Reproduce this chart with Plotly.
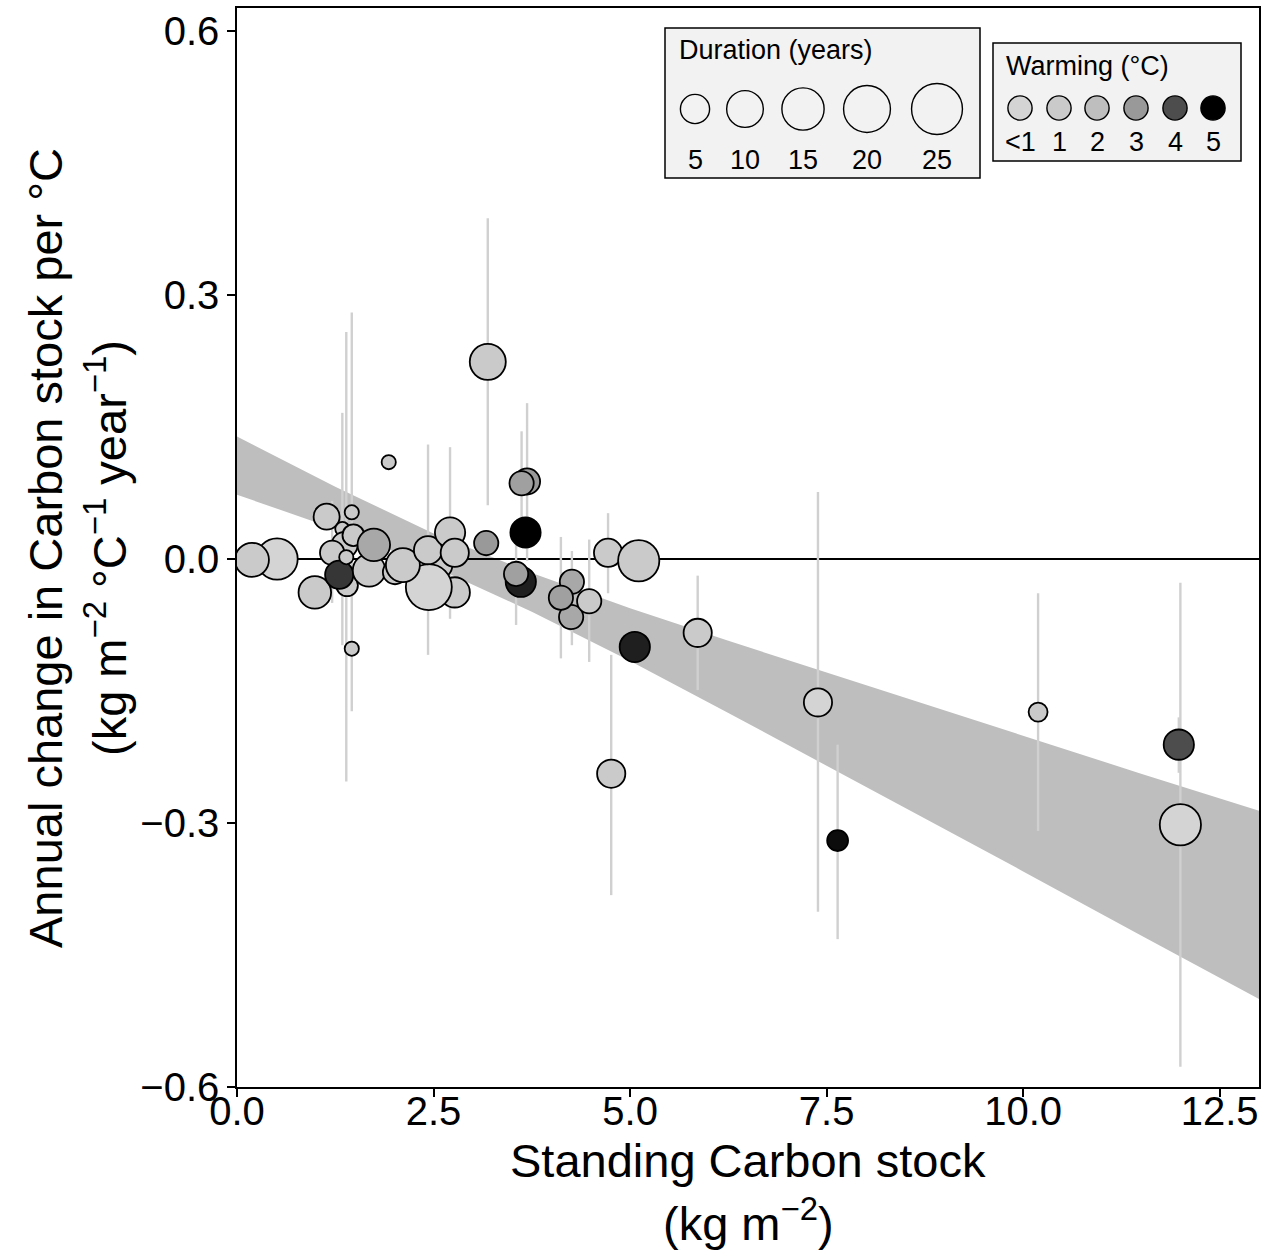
import numpy as np
import plotly.graph_objects as go

# ---------------- data ----------------
stock = [0.51, 0.19, 0.99, 1.14, 1.46, 1.34, 1.37, 1.21, 1.40, 1.30, 1.39, 1.46, 1.93, 1.48,
         1.68, 1.74, 2.01, 2.56, 2.77, 2.44, 2.11, 2.43, 2.71, 2.77, 3.17, 3.19, 3.69, 3.62,
         3.67, 3.61, 3.55, 4.26, 4.25, 4.12, 4.48, 4.72, 5.11, 5.06, 5.86, 4.76, 7.39, 7.64,
         10.19, 11.98, 12.0]
change = [0.000, -0.001, -0.038, 0.048, 0.053, 0.034, 0.016, 0.007, -0.030, -0.018, 0.002, -0.102, 0.110, 0.027,
          -0.013, 0.016, -0.015, -0.007, -0.038, -0.032, -0.007, 0.010, 0.030, 0.007, 0.018, 0.224, 0.088, 0.086,
          0.030, -0.026, -0.017, -0.026, -0.066, -0.044, -0.048, 0.007, -0.002, -0.100, -0.084, -0.244, -0.163, -0.320,
          -0.174, -0.211, -0.302]
nan = float("nan")
ci_low = [nan, nan, nan, nan, -0.173, -0.098, nan, -0.050, nan, nan, -0.253, nan, nan, nan,
          nan, nan, nan, nan, nan, nan, nan, -0.109, -0.068, nan, nan, 0.061, -0.002, 0.027,
          nan, nan, -0.075, -0.098, nan, -0.113, -0.117, -0.039, nan, nan, -0.149, -0.382, -0.401, -0.432,
          -0.309, -0.243, -0.577]
ci_high = [nan, nan, nan, nan, 0.280, 0.166, nan, 0.066, nan, nan, 0.258, nan, nan, nan,
           nan, nan, nan, nan, nan, nan, nan, 0.130, 0.127, nan, nan, 0.387, 0.177, 0.145,
           nan, nan, 0.041, 0.009, nan, 0.025, 0.022, 0.052, nan, nan, -0.019, -0.109, 0.076, -0.211,
           -0.039, -0.180, -0.027]
duration = [14, 8, 7, 3.5, 1, 1, 3.5, 2.8, 2, 4.5, 1, 1, 1, 2,
            7, 7, 2.8, 4.5, 5.6, 19, 8, 4.5, 5.6, 4.5, 2.8, 9.5, 3.5, 2.8,
            5.6, 5.6, 2.8, 2.8, 2.8, 2.8, 2.8, 4.5, 14, 5.6, 4.5, 4.5, 4.5, 1.8,
            1.4, 5.6, 14]
warming = [0.5, 1, 1, 1, 1, 1, 1, 1, 1, 4.3, 1, 1, 1, 1,
           1, 2.6, 1, 1, 1, 0.5, 1, 1, 1, 1, 3, 1, 3, 2.8,
           5, 4.6, 2.8, 2.6, 2.6, 2.8, 1, 1, 1, 4.6, 1, 1, 0.5, 4.85,
           1, 4, 0.5]

# regression confidence band
ribbon_x = [0, 1.25, 2.5, 3.75, 5, 6.25, 7.5, 8.75, 10, 11.5, 13]
ribbon_lo = [0.073, 0.034, -0.009, -0.060, -0.116, -0.175, -0.235, -0.295, -0.355, -0.428, -0.500]
ribbon_hi = [0.139, 0.082, 0.029, -0.016, -0.056, -0.093, -0.129, -0.165, -0.201, -0.244, -0.286]

x_ticks = [0.0, 2.5, 5.0, 7.5, 10.0, 12.5]
y_ticks = [-0.6, -0.3, 0.0, 0.3, 0.6]
X_RANGE = [0, 13]
Y_RANGE = [-0.6, 0.626]

dur_legend = [5, 10, 15, 20, 25]
warm_legend = [0.5, 1, 2, 3, 4, 5]
warm_legend_labels = ["<1", "1", "2", "3", "4", "5"]

# ---------------- scales ----------------
W, H = 1273, 1256
L, R, T, B = 237, 14, 8, 169
PW, PH = W - L - R, H - T - B
LINE_W = 1.8


def size_of(d):
    return 16 + 36.7 * np.sqrt(max(d - 1, 0) / 24.0)


def grey_of(w):
    lv = np.interp(w, [0.5, 1, 2, 3, 4, 5], [212, 202, 190, 153, 77, 0])
    g = int(round(lv))
    return f"rgb({g},{g},{g})"


fig = go.Figure()

# ribbon
fig.add_trace(go.Scatter(x=ribbon_x, y=ribbon_lo, mode="lines", line=dict(width=0, color="#bebebe"),
                         showlegend=False, hoverinfo="skip"))
fig.add_trace(go.Scatter(x=ribbon_x, y=ribbon_hi, mode="lines", line=dict(width=0, color="#bebebe"),
                         fill="tonexty", fillcolor="#bebebe", showlegend=False, hoverinfo="skip"))

# zero line
fig.add_trace(go.Scatter(x=X_RANGE, y=[0, 0], mode="lines", line=dict(color="black", width=2),
                         showlegend=False, hoverinfo="skip"))

# error bars
ex, ey = [], []
for xi, lo, hi in zip(stock, ci_low, ci_high):
    if np.isnan(lo) or np.isnan(hi):
        continue
    ex += [xi, xi, None]
    ey += [lo, hi, None]
fig.add_trace(go.Scatter(x=ex, y=ey, mode="lines", line=dict(color="#d0d0d0", width=2.4),
                         showlegend=False, hoverinfo="skip"))

# points
fig.add_trace(go.Scatter(
    x=stock, y=change, mode="markers",
    marker=dict(size=[size_of(d) - LINE_W for d in duration],
                color=[grey_of(w) for w in warming],
                line=dict(color="black", width=LINE_W), opacity=1),
    showlegend=False))

FONT = "Liberation Sans, Arial, Helvetica, sans-serif"

fig.update_layout(
    width=W, height=H,
    margin=dict(l=L, r=R, t=T, b=B, autoexpand=False),
    paper_bgcolor="white", plot_bgcolor="white",
    font=dict(family=FONT, color="black"),
    showlegend=False,
)
fig.update_xaxes(range=X_RANGE, tickvals=x_ticks, ticktext=[f"{v:.1f}" for v in x_ticks],
                 showgrid=False, zeroline=False, showline=True, mirror=True, linecolor="black",
                 linewidth=1.5, ticks="outside", ticklen=8, tickwidth=1.5, tickcolor="black",
                 ticklabelstandoff=-20,
                 tickfont=dict(size=40, color="black", family=FONT))
fig.update_yaxes(range=Y_RANGE, tickvals=y_ticks,
                 ticktext=[("\u2212" if v < 0 else "") + f"{abs(v):.1f}" for v in y_ticks],
                 showgrid=False, zeroline=False, showline=True, mirror=True, linecolor="black",
                 linewidth=1.5, ticks="outside", ticklen=8, tickwidth=1.5, tickcolor="black",
                 tickfont=dict(size=40, color="black", family=FONT))


def px2paper(px, py):
    return (px - L) / PW, (H - B - py) / PH


annotations = []
shapes = []


def text(px, py, s, size, xanchor="center", angle=0):
    x, y = px2paper(px, py)
    annotations.append(dict(x=x, y=y, xref="paper", yref="paper", text=s, showarrow=False,
                            xanchor=xanchor, yanchor="middle", textangle=angle,
                            font=dict(size=size, family=FONT, color="black")))


# axis titles
text(748, 1160, "Standing Carbon stock", 47)
text(748, 1220, "(kg m<sup>\u22122</sup>)", 47)
text(45, 548, "Annual change in Carbon stock per \u00b0C", 47, angle=-90)
text(106, 548, "(kg m<sup>\u22122</sup> \u00b0C<sup>\u22121</sup> year<sup>\u22121</sup>)", 47, angle=-90)


def rect(x0, y0, x1, y1):
    a, b = px2paper(x0, y1)
    c, d = px2paper(x1, y0)
    shapes.append(dict(type="rect", xref="paper", yref="paper", x0=a, y0=b, x1=c, y1=d,
                       fillcolor="#f2f2f2", line=dict(color="black", width=1.5), layer="above"))


def circle(cx, cy, dia, fill):
    x, y = px2paper(cx, cy)
    r = (dia - LINE_W) / 2
    shapes.append(dict(type="circle", xref="paper", yref="paper", xsizemode="pixel", ysizemode="pixel",
                       xanchor=x, yanchor=y, x0=-r, x1=r, y0=-r, y1=r,
                       fillcolor=fill, line=dict(color="black", width=1.4), layer="above"))


# Duration legend
rect(665, 28, 980, 178)
text(677, 50, "Duration (years)", 27, xanchor="left")
dur_x = [695, 745, 803, 867, 937]
for cx, d in zip(dur_x, dur_legend):
    circle(cx, 109, size_of(d), "#f2f2f2")
    text(cx, 160, str(d), 27)

# Warming legend
rect(993, 43, 1241, 161)
text(1004, 66, "Warming (\u00b0C)", 27, xanchor="left")
warm_x = [1020, 1059, 1097, 1136, 1175, 1213]
for cx, w, lab in zip(warm_x, warm_legend, warm_legend_labels):
    circle(cx, 108, 26, grey_of(w))
    text(cx, 142, lab, 27)

fig.update_layout(annotations=annotations, shapes=shapes)
fig.write_html("out.html", config={"displayModeBar": False},
               post_script="document.body.style.margin='0px';document.body.style.padding='0px';")
